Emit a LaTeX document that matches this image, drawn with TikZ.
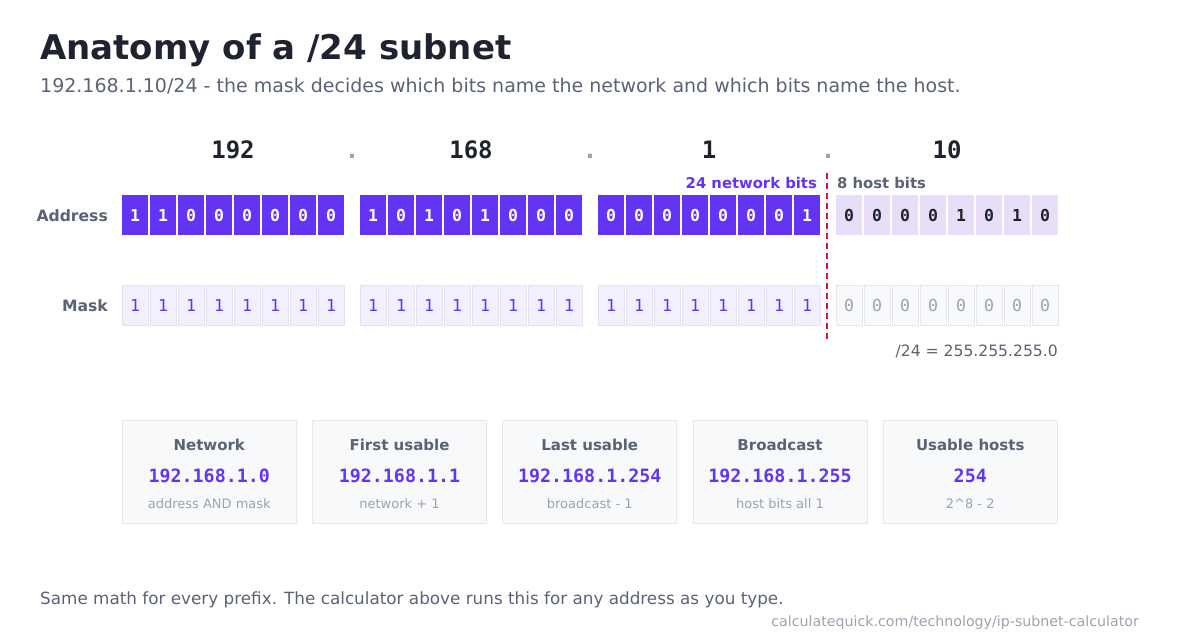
\documentclass[tikz,border=0pt]{standalone}
\usepackage{fontspec}
\setmainfont{DejaVu Sans}
\setmonofont{DejaVu Sans Mono}
\usepackage{tikz}
\usetikzlibrary{positioning}
\definecolor{inkcolor}{HTML}{1F2330}
\definecolor{slatecolor}{HTML}{5A6275}
\definecolor{mutedcolor}{HTML}{9CA3AF}
\definecolor{netcolor}{HTML}{6434F5}
\definecolor{hostcolor}{HTML}{E8DEF8}
\definecolor{masknetfill}{HTML}{F2F0FE}
\definecolor{masknetline}{HTML}{E4E1F3}
\definecolor{panelfill}{HTML}{F8F9FA}
\definecolor{panelline}{HTML}{E5E7EB}
\definecolor{splitcolor}{HTML}{DC143C}
\newcommand{\fsz}[1]{\fontsize{#1}{#1}\selectfont}

\begin{document}
\begin{tikzpicture}[
    x=1pt, y=-1pt,
    every node/.style={inner sep=0pt},
    bit/.style={rectangle, minimum width=26pt, minimum height=40pt, font=\ttfamily\bfseries\fsz{16.5}},
    netbit/.style={bit, fill=netcolor, text=white},
    hostbit/.style={bit, fill=hostcolor, text=inkcolor},
    masknet/.style={bit, fill=masknetfill, draw=masknetline, line width=1pt, text=netcolor, font=\ttfamily\fsz{16.5}},
    maskhost/.style={bit, fill=panelfill, draw=panelline, line width=1pt, text=mutedcolor, font=\ttfamily\fsz{16.5}},
    rowlabel/.style={anchor=base east, font=\bfseries\fsz{15.6}, text=slatecolor},
    octet/.style={anchor=base, font=\ttfamily\bfseries\fsz{24}, text=inkcolor},
    octdot/.style={anchor=base, font=\ttfamily\bfseries\fsz{24}, text=mutedcolor},
    panel/.style={rectangle, minimum width=174pt, minimum height=103pt, fill=panelfill, draw=panelline, line width=1pt},
    paneltitle/.style={anchor=base, font=\bfseries\fsz{15}, text=slatecolor},
    panelvalue/.style={anchor=base, font=\ttfamily\bfseries\fsz{18.3}, text=netcolor},
    panelnote/.style={anchor=base, font=\fsz{13}, text=mutedcolor}
]
    \useasboundingbox (0,0) rectangle (1180,640);

    % Heading
    \node[anchor=base west, font=\bfseries\fsz{34}, text=inkcolor] (title) at (40,59) {Anatomy of a /24 subnet};
    \node[anchor=base west, font=\fsz{19}, text=slatecolor] (subtitle) at (40,92) {192.168.1.10/24 - the mask decides which bits name the network and which bits name the host.};

    % Dotted-decimal octets
    \foreach \v [count=\k from 0] in {192,168,1,10}
        \node[octet] (oct\k) at (233+238*\k,158) {\v};
    \foreach \k in {0,1,2}
        \node[octdot] (dot\k) at (352+238*\k,158) {.};

    % Address and mask bits
    \node[rowlabel] (addrlabel) at (108,221) {Address};
    \node[rowlabel] (masklabel) at (108,311) {Mask};
    \foreach \b [count=\i from 0] in {1,1,0,0,0,0,0,0,1,0,1,0,1,0,0,0,0,0,0,0,0,0,0,1,0,0,0,0,1,0,1,0}{
        \pgfmathsetmacro\cx{135+238*int(\i/8)+28*mod(\i,8)}
        \ifnum\i<24
            \node[netbit] (a\i) at (\cx,215) {\b};
            \node[masknet] (m\i) at (\cx,305) {1};
        \else
            \node[hostbit] (a\i) at (\cx,215) {\b};
            \node[maskhost] (m\i) at (\cx,305) {0};
        \fi
    }

    % Prefix boundary
    \node[anchor=base east, font=\bfseries\fsz{14.8}, text=netcolor] (netbits) at (817,188) {24 network bits};
    \node[anchor=base west, font=\bfseries\fsz{14.8}, text=slatecolor] (hostbits) at (837,188) {8 host bits};
    \coordinate (splittop) at (827,173);
    \coordinate (splitbot) at (827,339);
    \draw[splitcolor, line width=2pt, dash pattern=on 6pt off 4pt] (splittop) -- (splitbot);
    \node[anchor=base east, font=\fsz{15.6}, text=slatecolor] (maskdec) at (1058,356) {/24 = 255.255.255.0};

    % Result panels
    \foreach \k/\key/\ttl/\val/\sub in {0/net/Network/192.168.1.0/address AND mask,
        1/first/First usable/192.168.1.1/network + 1,
        2/last/Last usable/192.168.1.254/broadcast - 1,
        3/bcast/Broadcast/192.168.1.255/host bits all 1,
        4/hosts/Usable hosts/254/2\textasciicircum 8 - 2}{
        \pgfmathsetmacro\bx{209.25+190.25*\k}
        \node[panel] (\key) at (\bx,471.5) {};
        \node[paneltitle] (\key-title) at (\bx,450) {\ttl};
        \node[panelvalue] (\key-value) at (\bx,482) {\val};
        \node[panelnote] (\key-note) at (\bx,508) {\sub};
    }

    % Footer
    \node[anchor=base west, font=\fsz{16.8}, text=slatecolor] (footer) at (40,604) {Same math for every prefix. The calculator above runs this for any address as you type.};
    \node[anchor=base east, font=\fsz{14.2}, text=mutedcolor] (source) at (1139,626) {calculatequick.com/technology/ip-subnet-calculator};
\end{tikzpicture}
\end{document}
